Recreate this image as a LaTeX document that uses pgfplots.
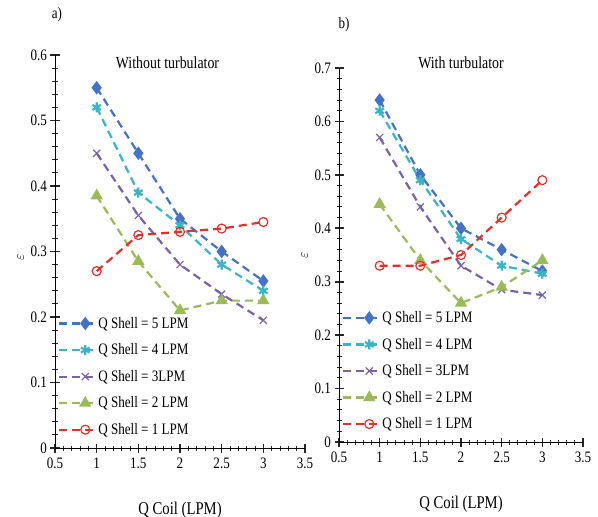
\documentclass[border=0pt]{standalone}
\usepackage{pgfplots}
\pgfplotsset{compat=1.18}
\usepackage{fontspec}
\setmainfont{Liberation Serif}[FakeStretch=0.82]
\definecolor{cA}{HTML}{4472C4}
\definecolor{cB}{HTML}{3DB3C8}
\definecolor{cC}{HTML}{7A62A6}
\definecolor{cD}{HTML}{9BBB59}
\definecolor{cE}{HTML}{E2312A}
\definecolor{tk}{HTML}{262626}
\pgfplotsset{
  panel/.style={
    scale only axis,
    anchor=south west,
    clip=false,
    axis lines=left,
    axis line style={-, black, line width=0.9bp},
    tick align=center,
    major tick length=9bp,
    minor tick length=5bp,
    major tick style={tk, line width=1.6bp},
    minor tick style={tk, line width=1bp},
    xmin=0.5, xmax=3.5,
    xtick={0.5,1,...,3.5},
    minor x tick num=4,
    minor y tick num=4,
    ticklabel style={font=\fontsize{16}{18}\selectfont},
    /pgf/number format/assume math mode=true,
    xticklabel style={yshift=-2bp},
    xlabel={Q Coil (LPM)},
    xlabel style={font=\fontsize{18}{20}\selectfont, yshift=-26bp},
    ylabel={$\varepsilon$},
    ylabel style={font=\fontsize{14}{16}\selectfont},
    legend cell align=left,
    legend style={draw=none, fill=none, font=\fontsize{16}{18}\selectfont,
      row sep=10bp, anchor=south west},
    legend image code/.code={
      \draw[mark repeat=2,mark phase=2] plot coordinates {(0bp,0bp) (26bp,0bp) (36bp,0bp)};},
  },
  dsh/.style={dash pattern=on 8bp off 5bp, line width=2.2bp},
  s5/.style={dsh, cA, mark=diamond*, mark size=5bp, mark options={solid, fill=cA}},
  s4/.style={dsh, cB, mark=asterisk, mark size=5bp, mark options={solid}},
  s3/.style={dsh, cC, mark=x, mark size=5bp, mark options={solid, line width=1.2bp}},
  s2/.style={dsh, cD, mark=triangle*, mark size=5bp, mark options={solid, fill=cD}},
  s1/.style={dsh, cE, mark=o, mark size=4.5bp, mark options={solid, fill=white, line width=1.2bp}},
}
\begin{document}
\begin{tikzpicture}
\useasboundingbox (0bp,0bp) rectangle (598bp,-517bp);
\begin{axis}[panel,
  at={(55bp,-448bp)}, width=250bp, height=393bp,
  ymin=0, ymax=0.6, ytick={0,0.1,...,0.6},
  yticklabels={0,0.1,0.2,0.3,0.4,0.5,0.6},
  legend style={at={(0.0,0.02)}},
  ylabel style={xshift=-6bp},
]
\addplot[s5] coordinates {(1,0.55) (1.5,0.45) (2,0.35) (2.5,0.30) (3,0.255)};
\addplot[s4] coordinates {(1,0.52) (1.5,0.39) (2,0.34) (2.5,0.28) (3,0.24)};
\addplot[s3] coordinates {(1,0.45) (1.5,0.355) (2,0.28) (2.5,0.235) (3,0.195)};
\addplot[s2] coordinates {(1,0.385) (1.5,0.285) (2,0.21) (2.5,0.225) (3,0.225)};
\addplot[s1] coordinates {(1,0.27) (1.5,0.325) (2,0.33) (2.5,0.335) (3,0.345)};
\legend{Q Shell = 5 LPM, Q Shell = 4 LPM, Q Shell = 3LPM, Q Shell = 2 LPM, Q Shell = 1 LPM}
\node[font=\fontsize{17}{19}\selectfont] at (axis description cs:0.45,0.98) {Without turbulator};
\end{axis}
\node[font=\fontsize{16}{18}\selectfont] at (57bp,-15bp) {a)};
\begin{axis}[panel,
  at={(339bp,-442bp)}, width=244bp, height=374bp,
  ymin=0, ymax=0.7, ytick={0,0.1,...,0.7},
  yticklabels={0,0.1,0.2,0.3,0.4,0.5,0.6,0.7},
  legend style={at={(0.0,0.02)}},
]
\addplot[s5] coordinates {(1,0.64) (1.5,0.50) (2,0.40) (2.5,0.36) (3,0.32)};
\addplot[s4] coordinates {(1,0.62) (1.5,0.49) (2,0.38) (2.5,0.33) (3,0.315)};
\addplot[s3] coordinates {(1,0.57) (1.5,0.44) (2,0.33) (2.5,0.285) (3,0.275)};
\addplot[s2] coordinates {(1,0.445) (1.5,0.34) (2,0.26) (2.5,0.29) (3,0.34)};
\addplot[s1] coordinates {(1,0.33) (1.5,0.33) (2,0.35) (2.5,0.42) (3,0.49)};
\legend{Q Shell = 5 LPM, Q Shell = 4 LPM, Q Shell = 3LPM, Q Shell = 2 LPM, Q Shell = 1 LPM}
\node[font=\fontsize{17}{19}\selectfont] at (axis description cs:0.5,1.015) {With turbulator};
\end{axis}
\node[font=\fontsize{16}{18}\selectfont] at (344bp,-25bp) {b)};
\end{tikzpicture}
\end{document}
